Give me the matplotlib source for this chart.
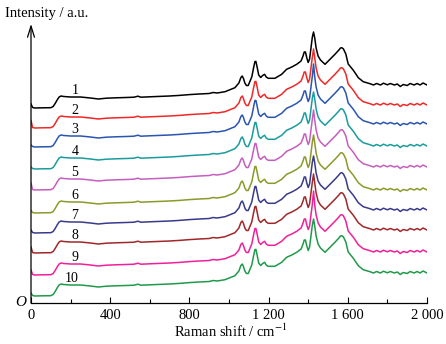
import matplotlib
matplotlib.use("Agg")
import matplotlib.pyplot as plt
from matplotlib.ticker import FixedLocator

# ---- data ----
shift = [0, 8, 20, 60, 100, 112, 122, 132, 142, 152, 165, 200, 250, 300, 340, 380,
         430, 480, 520, 540, 555, 600, 650, 700, 750, 800, 850, 900, 920, 940, 980,
         1030, 1050, 1060, 1067, 1073, 1080, 1088, 1097, 1115, 1125, 1131, 1136, 1142,
         1150, 1160, 1170, 1180, 1188, 1198, 1232, 1266, 1291, 1317, 1342, 1364, 1374,
         1380, 1386, 1393, 1400, 1407, 1414, 1421, 1427, 1433, 1440, 1450, 1462, 1485,
         1510, 1535, 1555, 1563, 1570, 1578, 1590, 1602, 1628, 1653, 1678, 1712, 1730,
         1745, 1765, 1780, 1800, 1815, 1835, 1850, 1865, 1880, 1900, 1915, 1935, 1950,
         1965, 1980, 2000]

profile = [0, 0.5, 0, 0.2, 0.3, 1.5, 4.5, 8, 11, 12, 11.5, 11, 11, 10, 9, 9.8,
           10.2, 10.5, 10.8, 11.8, 10.8, 11.2, 11.6, 12, 12.6, 13.4, 14, 14.5, 15.5, 15, 16.3,
           20.3, 25, 30.5, 32, 29.5, 25, 22.5, 22.5, 31, 41, 46.5, 46.5, 41,
           33, 30.5, 32.5, 33.7, 31, 29.7, 29.7, 33.7, 38.7, 41, 43.7, 47, 52,
           56, 56, 50, 45.5, 49, 60, 71, 75.5, 70, 60, 52, 48, 43.7,
           48.7, 53.7, 58, 60, 60.3, 59, 54, 44, 37.7, 30.3, 26.3, 24.3, 23,
           24.5, 23, 24.8, 23.2, 24.5, 23, 24, 21.5, 23.5, 22.5, 24.5, 23, 24.5,
           23, 25, 23]

labels = ["1", "2", "3", "4", "5", "6", "7", "8", "9", "10"]
offsets = [195, 175, 156, 134, 113, 90, 70, 50, 28, 7]
start_values = [4, 7.5, 2, 2, 7, 2.5, 3, 6, 5, 3]
peak_1427 = [76, 79, 83, 77, 80, 78, 77, 79, 84, 77]
colors = ["#000000", "#f02828", "#2a55b0", "#1a9c9c", "#c65ec0",
          "#8c9a2a", "#3a3a8c", "#a0282a", "#f0209a", "#1f9a4a"]

xticks_major = [0, 400, 800, 1200, 1600, 2000]
xtick_labels = ["0", "400", "800", "1 200", "1 600", "2 000"]
xticks_minor = [200, 600, 1000, 1400, 1800]

# ---- figure ----
plt.rcParams["font.family"] = ["Liberation Serif", "DejaVu Serif"]
plt.rcParams["mathtext.fontset"] = "stix"

W, H = 446, 344
fig = plt.figure(figsize=(W / 100, H / 100), dpi=100)
ax = fig.add_axes([31 / W, (H - 303) / H, 396 / W, (303 - 24) / H])

peak_idx = shift.index(1427)
for k in range(len(labels)):
    y = list(profile)
    y[0] = start_values[k]
    y[peak_idx] = peak_1427[k]
    y = [v + offsets[k] for v in y]
    ax.plot(shift, y, color=colors[k], lw=1.1, solid_joinstyle="round")
    lx = 207 if labels[k] == "10" else 222
    ax.text(lx, offsets[k] + 14, labels[k], fontsize=10, ha="center",
            va="baseline", color="black")

ax.set_xlim(0, 2000)
ax.set_ylim(0, 279)
ax.spines["top"].set_visible(False)
ax.spines["right"].set_visible(False)
ax.spines["left"].set_visible(False)
ax.spines["bottom"].set_linewidth(0.9)
ax.set_yticks([])
ax.xaxis.set_major_locator(FixedLocator(xticks_major))
ax.set_xticklabels(xtick_labels)
ax.xaxis.set_minor_locator(FixedLocator(xticks_minor))
ax.tick_params(axis="x", which="major", direction="in", length=4.5, width=0.8,
               labelsize=10.5, pad=4)
ax.tick_params(axis="x", which="minor", direction="in", length=3, width=0.8)

# y axis with arrow
ax.annotate("", xy=(0, 1.0), xycoords="axes fraction", xytext=(0, 0),
            textcoords="axes fraction",
            arrowprops=dict(arrowstyle="->,head_length=0.8,head_width=0.25",
                            lw=0.9, color="black", shrinkA=0, shrinkB=0),
            annotation_clip=False)

fig.text(5 / W, 1 - 13 / H, "Intensity / a.u.", fontsize=10.5, ha="left", va="center")
fig.text(21 / W, 1 - 302 / H, "O", fontsize=11, style="italic", ha="center", va="center")
fig.text(231 / W, 1 - 331 / H, r"Raman shift / cm$^{-1}$", fontsize=10.5,
         ha="center", va="center")

fig.savefig("out.png", dpi=100)
